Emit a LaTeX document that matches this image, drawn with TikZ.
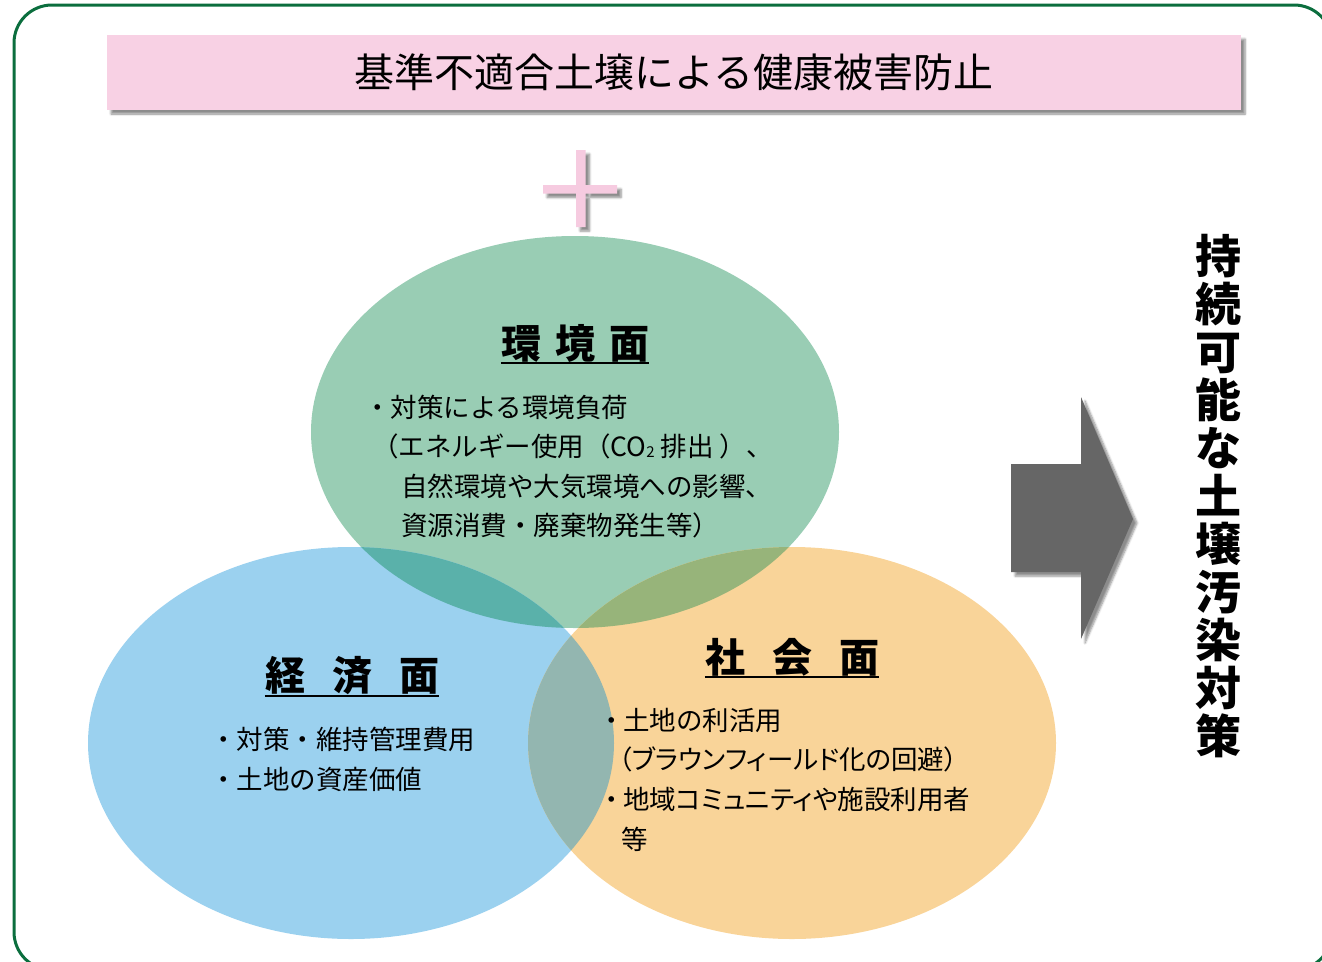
\documentclass[tikz,border=0pt]{standalone}
\usepackage{fontspec}
\setmainfont{Noto Sans CJK JP}
\newfontfamily\jpprop{Noto Sans CJK JP}[RawFeature=+palt]
\usetikzlibrary{shadows.blur}
\definecolor{framegreen}{RGB}{11,110,62}
\definecolor{bannerpink}{RGB}{248,209,228}
\definecolor{pluspink}{RGB}{246,203,224}
\definecolor{envgreen}{RGB}{153,205,180}
\definecolor{ecoblue}{RGB}{155,209,239}
\definecolor{socorange}{RGB}{249,212,153}
\definecolor{gbmix}{RGB}{90,177,170}
\definecolor{gomix}{RGB}{151,180,122}
\definecolor{bomix}{RGB}{147,182,176}
\definecolor{arrowgray}{RGB}{102,102,102}
\tikzset{
  bodytext/.style={anchor=west, inner sep=0pt, font=\fontsize{26.5}{26.5}\selectfont},
  titletext/.style={inner sep=0pt, font=\fontsize{40}{40}\selectfont\bfseries},
  softshadow/.style={blur shadow={shadow xshift=4pt, shadow yshift=-4pt, shadow blur steps=6, shadow opacity=45}},
  uline/.style={line width=2pt},
}
\begin{document}
\begin{tikzpicture}[x=1pt,y=-1pt]
\useasboundingbox (0,0) rectangle (1322,961);
% frame
\draw[framegreen, line width=3pt, rounded corners=38pt] (14,5) rectangle (1332,970);
% banner
\node[fill=bannerpink, minimum width=1134pt, minimum height=75pt, inner sep=0pt,
      font=\fontsize{40}{40}\selectfont, softshadow] (banner) at (674,72.5) {基準不適合土壌による健康被害防止};
% plus sign
\fill[pluspink, softshadow] (576,150) rectangle (585.5,227) (543,185) rectangle (617,193.5);
% ellipses
\fill[envgreen] (575,432) ellipse [x radius=264pt, y radius=196pt];
\fill[ecoblue] (351,743) ellipse [x radius=263pt, y radius=196pt];
\fill[socorange] (792,743) ellipse [x radius=264pt, y radius=196pt];
\begin{scope}
  \clip (575,432) ellipse [x radius=264pt, y radius=196pt];
  \fill[gbmix] (351,743) ellipse [x radius=263pt, y radius=196pt];
  \fill[gomix] (792,743) ellipse [x radius=264pt, y radius=196pt];
\end{scope}
\begin{scope}
  \clip (351,743) ellipse [x radius=263pt, y radius=196pt];
  \fill[bomix] (792,743) ellipse [x radius=264pt, y radius=196pt];
\end{scope}
% arrow
\fill[arrowgray, softshadow] (1011,464) -- (1081,464) -- (1081,397) -- (1133,519) -- (1081,639) -- (1081,572) -- (1011,572) -- cycle;
% vertical text
\node[inner sep=0pt, anchor=north, align=center, font=\fontsize{46}{48}\selectfont\bfseries] (goal) at (1218,234)
  {持\\続\\可\\能\\な\\土\\壌\\汚\\染\\対\\策};
% environment
\node[titletext] (envt) at (575,343) {環\hspace{14pt}境\hspace{14pt}面};
\draw[uline] ([yshift=-1pt]envt.south west) -- ([yshift=-1pt]envt.south east);
\node[bodytext] (env1) at (364,407) {・対策による環境負荷};
\node[bodytext] (env2) at (372,446) {（エネルギー使用（CO\raisebox{-1pt}{\fontsize{15}{15}\selectfont 2} 排出 ）、};
\node[bodytext] (env3) at (401,486) {自然環境や大気環境への影響、};
\node[bodytext] (env4) at (401,525) {資源消費・廃棄物発生等）};
% economy
\node[titletext] (ecot) at (352,676) {経\hspace{27pt}済\hspace{27pt}面};
\draw[uline] ([yshift=-1pt]ecot.south west) -- ([yshift=-1pt]ecot.south east);
\node[bodytext] (eco1) at (210,739) {・対策・維持管理費用};
\node[bodytext] (eco2) at (210,779) {・土地の資産価値};
% society
\node[titletext] (soct) at (792,657) {社\hspace{27pt}会\hspace{27pt}面};
\draw[uline] ([yshift=-1pt]soct.south west) -- ([yshift=-1pt]soct.south east);
\node[bodytext] (soc1) at (598,720) {・\kern-1.5pt 土地の利活用};
\node[bodytext] (soc2) at (619,759) {\jpprop （ブラウンフィールド化の回避）};
\node[bodytext] (soc3) at (598,799) {・\kern-1.5pt{\jpprop 地域コミュニティや施設利用者}};
\node[bodytext] (soc4) at (621,839) {等};
\end{tikzpicture}
\end{document}
